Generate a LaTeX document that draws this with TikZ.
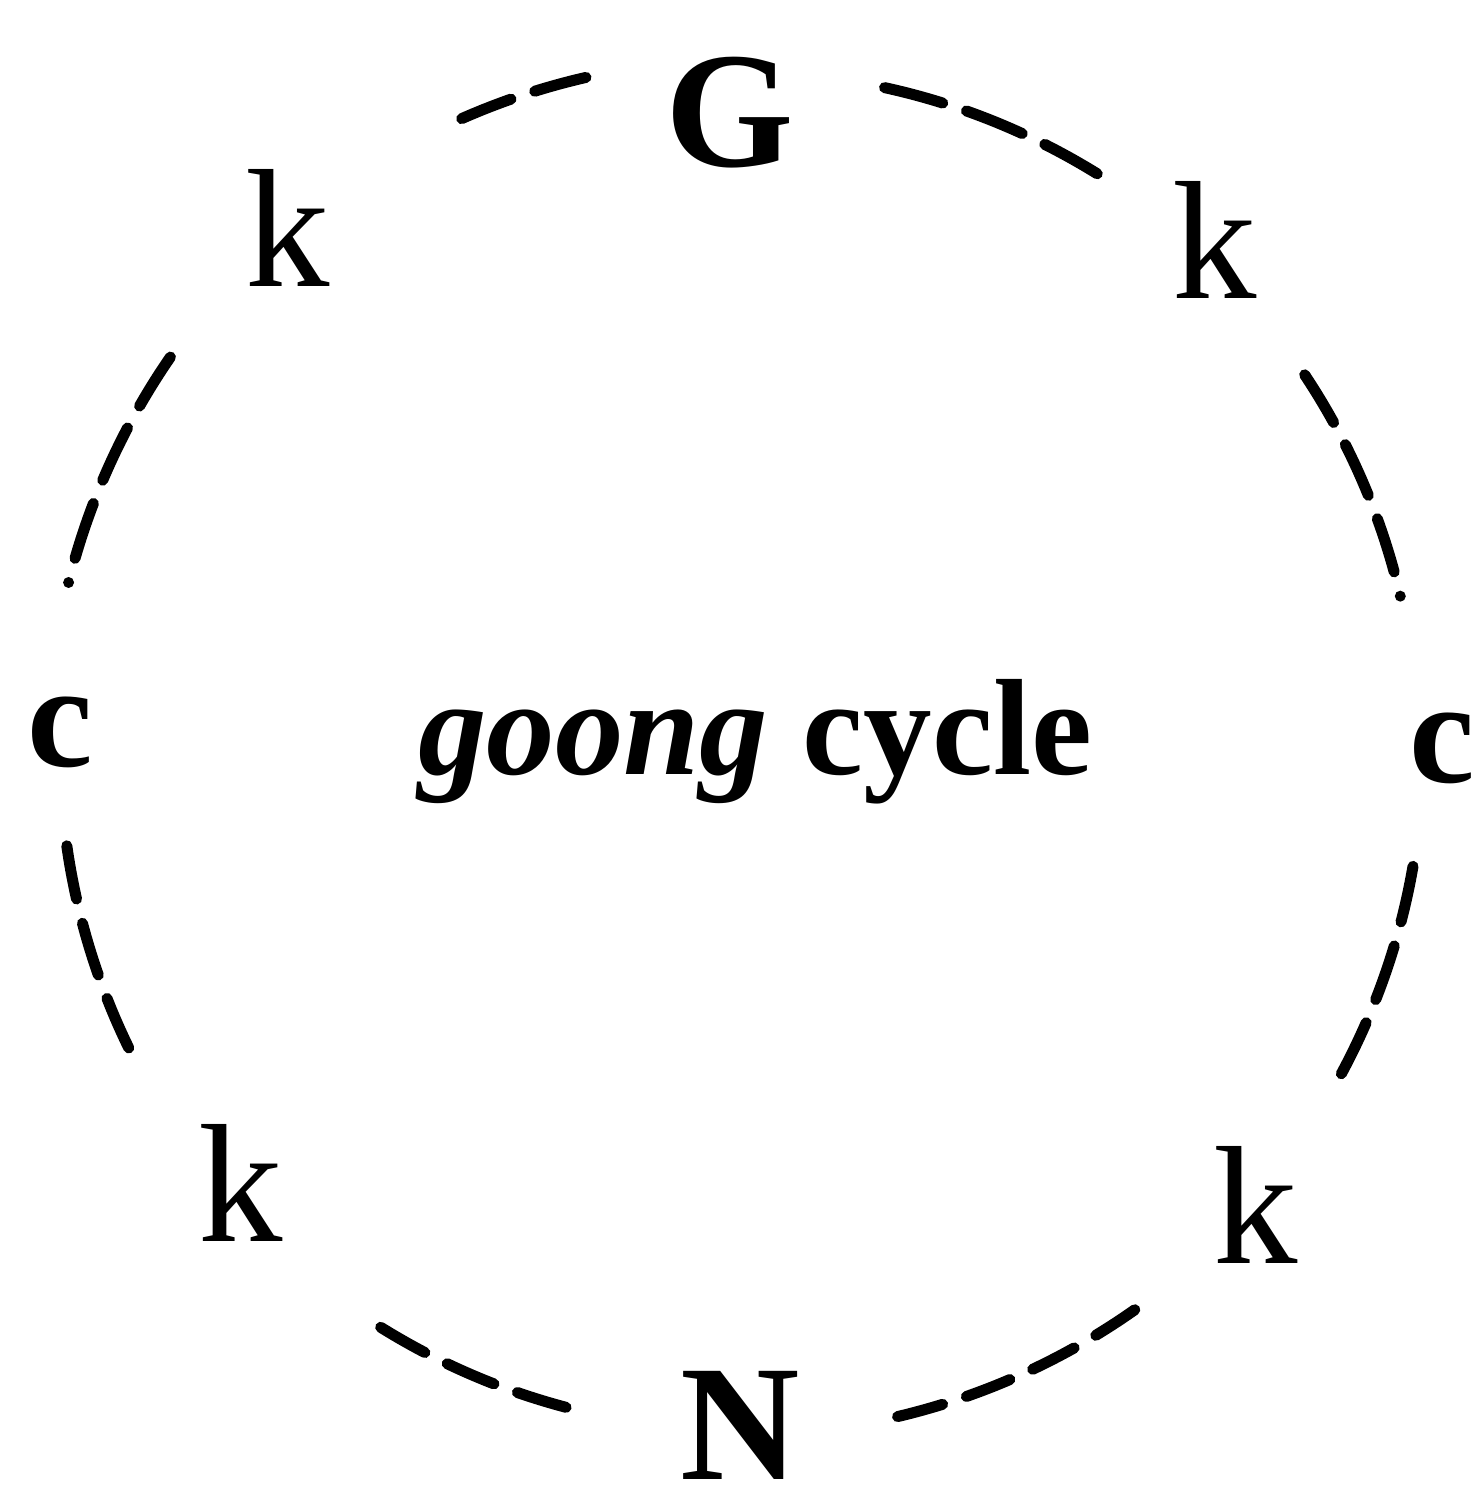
\documentclass[tikz,border=0pt]{standalone}
\usepackage{fontspec}
\setmainfont{Liberation Serif}
\begin{document}
\begin{tikzpicture}[
  lbl/.style={font=\fontsize{47}{50}\selectfont\bfseries, anchor=base, inner sep=0pt},
  klbl/.style={font=\fontsize{48}{50}\selectfont, anchor=base, inner sep=0pt},
  clbl/.style={font=\fontsize{42}{46}\selectfont\bfseries, anchor=base, inner sep=0pt},
  title/.style={font=\fontsize{39}{42}\selectfont\bfseries, anchor=base, inner sep=0pt},
  ring/.style={line width=0.11cm, line cap=round}
]
\useasboundingbox (0,0) rectangle (14.74,14.92);
\coordinate (O) at (7.40,7.42);
% letters
\node[lbl]  (G)   at (7.30,13.25) {G};
\node[klbl] (kTL) at (2.88,12.05) {k};
\node[klbl] (kTR) at (12.15,11.93) {k};
\node[clbl] (cL)  at (0.60,7.25) {c};
\node[clbl] (cR)  at (14.42,7.09) {c};
\node[klbl] (kBL) at (2.41,2.50) {k};
\node[klbl] (kBR) at (12.56,2.28) {k};
\node[lbl, text depth=0pt]  (N)   at (7.40,0.13) {N};
\node[title] (T)  at (7.55,7.17) {\textit{goong} cycle};
% dashed arcs
\draw[ring, dash pattern=on 0.531cm off 0.25cm]
  ([shift={(102.9:6.9)}]O) arc[start angle=102.9, end angle=113.8, radius=6.9];
\draw[ring, dash pattern=on 0.602cm off 0.25cm]
  ([shift={(58.2:6.78)}]O) arc[start angle=58.2, end angle=77.7, radius=6.78];
\draw[ring, dash pattern=on 0.579cm off 0.25cm on 0.579cm off 0.25cm on 0.579cm off 0.25cm on 0cm off 2cm]
  ([shift={(145.4:6.92)}]O) arc[start angle=145.4, end angle=166.0, radius=6.92];
\draw[ring, dash pattern=on 0.558cm off 0.25cm on 0.558cm off 0.25cm on 0.558cm off 0.25cm on 0cm off 2cm]
  ([shift={(33.6:6.78)}]O) arc[start angle=33.6, end angle=13.1, radius=6.78];
\draw[ring, dash pattern=on 0.541cm off 0.25cm]
  ([shift={(188.1:6.8)}]O) arc[start angle=188.1, end angle=206.0, radius=6.8];
\draw[ring, dash pattern=on 0.568cm off 0.25cm]
  ([shift={(-28.3:6.83)}]O) arc[start angle=-28.3, end angle=-9.8, radius=6.83];
\draw[ring, dash pattern=on 0.509cm off 0.25cm]
  ([shift={(238.1:6.8)}]O) arc[start angle=238.1, end angle=255.2, radius=6.8];
\draw[ring, dash pattern=on 0.467cm off 0.25cm]
  ([shift={(-76.7:6.85)}]O) arc[start angle=-76.7, end angle=-54.8, radius=6.85];
\end{tikzpicture}
\end{document}
